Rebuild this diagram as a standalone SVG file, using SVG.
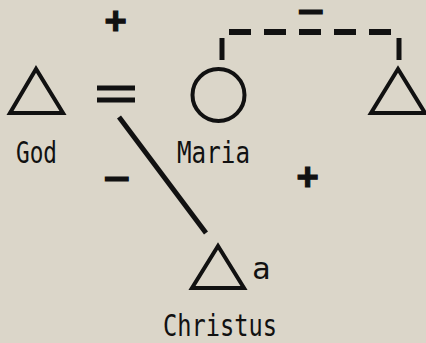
<svg xmlns="http://www.w3.org/2000/svg" width="426" height="343" viewBox="0 0 426 343">
<style>
.bg{fill:#dbd6c9}
.sym{fill:none;stroke:#111;stroke-width:4;stroke-linejoin:miter}
.lbl{font-family:"DejaVu Sans Mono","Liberation Mono",monospace;font-size:31px;fill:#111}
.sign{font-family:"Liberation Sans",Arial,sans-serif;font-weight:bold;font-size:38px;fill:#111;stroke:#111;stroke-width:1.2;text-anchor:middle}
.minus{font-family:"Liberation Sans",Arial,sans-serif;font-weight:bold;font-size:18px;fill:#111;stroke:#111;stroke-width:3}
.conn{fill:none;stroke:#111;stroke-width:5}
.dash{fill:none;stroke:#111;stroke-width:6;stroke-dasharray:22 13}
</style>
<rect class="bg" x="0" y="0" width="426" height="343"/>
<g id="god">
<polygon class="sym" points="36,69 10,113 63,113"/>
<text class="lbl" x="16" y="163" textLength="41" lengthAdjust="spacingAndGlyphs">God</text>
</g>
<g id="maria">
<circle class="sym" cx="218.5" cy="95" r="26"/>
<text class="lbl" x="177" y="163" textLength="73" lengthAdjust="spacingAndGlyphs">Maria</text>
</g>
<g id="right">
<polygon class="sym" points="398,69 371,113 425,113"/>
</g>
<g id="christus">
<polygon class="sym" points="218,246 192,288 244,288"/>
<text class="lbl" x="252" y="279">a</text>
<text class="lbl" x="163" y="336" style="font-size:29.5px" textLength="114" lengthAdjust="spacingAndGlyphs">Christus</text>
</g>
<g id="connectors">
<line class="conn" x1="97" y1="88" x2="135" y2="88"/>
<line class="conn" x1="97" y1="100" x2="135" y2="100"/>
<line class="conn" x1="119" y1="117" x2="206" y2="233"/>
<line class="conn" x1="222" y1="38" x2="222" y2="60"/>
<line class="conn" x1="399" y1="38" x2="399" y2="60"/>
<line class="dash" x1="229" y1="32" x2="391" y2="32"/>
</g>
<g id="signs">
<text class="sign" x="115.5" y="34">+</text>
<text class="sign" x="307.5" y="190">+</text>
<text class="minus" x="106" y="185" textLength="21" lengthAdjust="spacingAndGlyphs">−</text>
<text class="minus" x="300" y="18" textLength="21" lengthAdjust="spacingAndGlyphs">−</text>
</g>
</svg>
